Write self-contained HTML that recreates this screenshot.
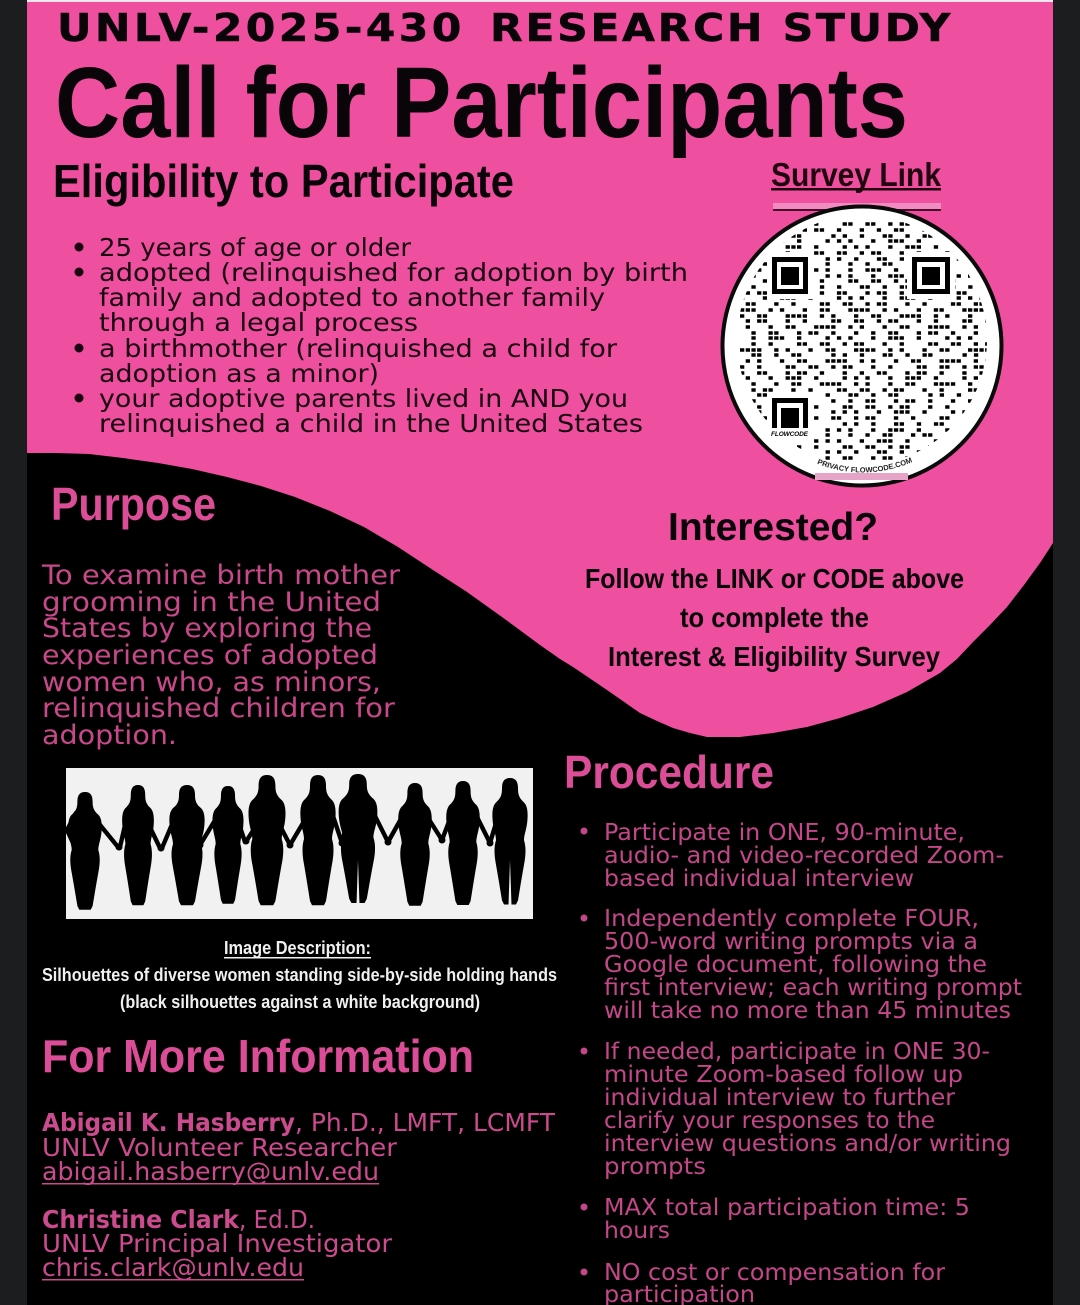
<!DOCTYPE html>
<html><head><meta charset="utf-8"><style>
html,body{margin:0;padding:0;background:#000}
svg{display:block}
text{font-family:"Liberation Sans",sans-serif}
.h{font-weight:700;fill:#0a0508}
.t{font-family:"DejaVu Sans",sans-serif;font-weight:700;font-size:38px;fill:#0a0508;stroke:#0a0508;stroke-width:.5}
.m{font-family:"DejaVu Sans",sans-serif;font-size:25px;fill:#1a0510}
.p{font-family:"DejaVu Sans",sans-serif;font-size:27px;fill:#c8488a}
.r{font-family:"DejaVu Sans",sans-serif;font-size:23px;fill:#c4478a}
.c{font-family:"DejaVu Sans",sans-serif;font-size:25px;fill:#cc4a8e}
.k{font-weight:700;fill:#dc4d97}
.w{font-weight:700;fill:#f0f0f0;font-size:18px}
.q path{stroke:#000;stroke-width:3.4;fill:none}
.a{stroke-dasharray:4.3 1.4 4.3 12.8 4.3 7.1 4.3 1.4 4.3 18.5 4.3 12.8 4.3 24.2 4.3 1.4 4.3 12.8}
.b{stroke-dasharray:4.3 12.8 4.3 12.8 4.3 1.4 4.3 18.5 4.3 7.1 4.3 1.4 4.3 12.8 4.3 18.5}
.d{stroke-dasharray:4.3 18.5 4.3 1.4 4.3 12.8 4.3 12.8 4.3 1.4 4.3 30 4.3 7.1 4.3 12.8}
.e{stroke-dasharray:4.3 1.4 4.3 1.4 4.3 1.4 4.3 12.8 4.3 7.1 4.3 18.5 4.3 12.8 4.3 1.4 4.3 18.5}
.f{stroke-dasharray:4.3 7.1 4.3 18.5 4.3 12.8 4.3 1.4 4.3 1.4 4.3 12.8 4.3 24.2 4.3 7.1}
.s path{fill:#000}.s polyline{fill:none;stroke:#000;stroke-width:4.4;stroke-linecap:round;stroke-linejoin:round}
</style></head><body>
<svg xmlns="http://www.w3.org/2000/svg" width="1080" height="1305" viewBox="0 0 1080 1305">
<defs>
<clipPath id="qc"><circle cx="862" cy="340" r="125"/></clipPath>
<path id="fig" d="M0 0C-6 0-8 4-8 10C-8 16-9 19-13 23C-17 26-18 32-17.5 40C-17 50-14 55-14 61C-16 67-16 75-14 85C-12 96-10 108-8 120L-6 124L6 124L8 120C10 108 12 96 14 85C16 75 16 67 14 61C14 55 17 50 17.5 40C18 32 17 26 13 23C9 19 8 16 8 10C8 4 6 0 0 0Z"/>
<path id="arc" d="M815 463 Q862 482 910 463"/>
</defs>
<rect width="1080" height="1305" fill="#000"/>
<rect x="0" y="0" width="27" height="1305" fill="#1c1d1f"/>
<rect x="1053" y="0" width="27" height="1305" fill="#1c1d1f"/>
<rect x="27" y="0" width="1026" height="2" fill="#f6e6ee"/>
<path d="M27 2H1053V543L1040 563L1024 585L1007 607L990 625L973 642L957 659L940 673L907 692L873 707L840 718L807 727L773 733L740 737L707 737L690 733L673 728L657 721L640 713L607 690L573 667L560 659L540 645L502 617L467 592L433 570L398 547L364 527L330 511L295 497L261 486L227 477L192 469L158 463L123 458L89 454L55 453L27 453Z" fill="#ee4f9f"/>

<g transform="scale(1.12,1)">
<text class="t" x="50.9" y="41" textLength="361" lengthAdjust="spacing">UNLV-2025-430</text>
<text class="t" x="437.5" y="41" textLength="411" lengthAdjust="spacing">RESEARCH STUDY</text>
</g>
<text class="h" x="55" y="137" font-size="100" textLength="853" lengthAdjust="spacingAndGlyphs">Call for Participants</text>
<text class="h" x="53" y="197" font-size="46" textLength="461" lengthAdjust="spacingAndGlyphs">Eligibility to Participate</text>
<text class="h" x="771" y="186" font-size="33" textLength="170" lengthAdjust="spacingAndGlyphs" style="fill:#22060f">Survey Link</text>
<rect x="771" y="188" width="170" height="2.5" fill="#22060f"/>
<rect x="773" y="203" width="168" height="6" fill="#f08cc0"/>
<rect x="773" y="209" width="168" height="2" fill="#4a0a2a"/>

<g fill="#1a0510"><circle cx="79" cy="247" r="4.5"/><circle cx="79" cy="272" r="4.5"/><circle cx="79" cy="348" r="4.5"/><circle cx="79" cy="398" r="4.5"/></g>
<text class="m" x="99" y="256" textLength="312" lengthAdjust="spacingAndGlyphs">25 years of age or older</text>
<text class="m" x="99" y="281" textLength="589" lengthAdjust="spacingAndGlyphs">adopted (relinquished for adoption by birth</text>
<text class="m" x="99" y="306" textLength="506" lengthAdjust="spacingAndGlyphs">family and adopted to another family</text>
<text class="m" x="99" y="331" textLength="319" lengthAdjust="spacingAndGlyphs">through a legal process</text>
<text class="m" x="99" y="357" textLength="518" lengthAdjust="spacingAndGlyphs">a birthmother (relinquished a child for</text>
<text class="m" x="99" y="382" textLength="280" lengthAdjust="spacingAndGlyphs">adoption as a minor)</text>
<text class="m" x="99" y="407" textLength="529" lengthAdjust="spacingAndGlyphs">your adoptive parents lived in AND you</text>
<text class="m" x="99" y="432" textLength="544" lengthAdjust="spacingAndGlyphs">relinquished a child in the United States</text>

<circle cx="862" cy="346" r="139.5" fill="#fff" stroke="#0a0a0a" stroke-width="4"/>
<g class="q" clip-path="url(#qc)">
<path class="a" d="M740 224H990" stroke-dashoffset="5.7"/>
<path class="b" d="M740 230H990" stroke-dashoffset="0"/>
<path class="d" d="M740 236H990" stroke-dashoffset="11.4"/>
<path class="f" d="M740 241H990" stroke-dashoffset="22.8"/>
<path class="f" d="M740 247H990" stroke-dashoffset="5.7"/>
<path class="a" d="M740 253H990" stroke-dashoffset="34.2"/>
<path class="d" d="M740 259H990" stroke-dashoffset="17.1"/>
<path class="b" d="M740 264H990" stroke-dashoffset="11.4"/>
<path class="f" d="M740 270H990" stroke-dashoffset="45.6"/>
<path class="f" d="M740 276H990" stroke-dashoffset="22.8"/>
<path class="a" d="M740 281H990" stroke-dashoffset="0"/>
<path class="d" d="M740 287H990" stroke-dashoffset="34.2"/>
<path class="b" d="M740 293H990" stroke-dashoffset="57"/>
<path class="f" d="M740 298H990" stroke-dashoffset="11.4"/>
<path class="a" d="M740 304H990" stroke-dashoffset="28.5"/>
<path class="e" d="M740 310H990" stroke-dashoffset="5.7"/>
<path class="e" d="M740 316H990" stroke-dashoffset="68.4"/>
<path class="a" d="M740 321H990" stroke-dashoffset="17.1"/>
<path class="e" d="M740 327H990" stroke-dashoffset="39.9"/>
<path class="b" d="M740 333H990" stroke-dashoffset="5.7"/>
<path class="f" d="M740 338H990" stroke-dashoffset="22.8"/>
<path class="a" d="M740 344H990" stroke-dashoffset="51.3"/>
<path class="e" d="M740 350H990" stroke-dashoffset="0"/>
<path class="d" d="M740 355H990" stroke-dashoffset="11.4"/>
<path class="e" d="M740 361H990" stroke-dashoffset="28.5"/>
<path class="a" d="M740 367H990" stroke-dashoffset="62.7"/>
<path class="b" d="M740 373H990" stroke-dashoffset="17.1"/>
<path class="f" d="M740 378H990" stroke-dashoffset="5.7"/>
<path class="e" d="M740 384H990" stroke-dashoffset="34.2"/>
<path class="a" d="M740 390H990" stroke-dashoffset="11.4"/>
<path class="d" d="M740 395H990" stroke-dashoffset="45.6"/>
<path class="b" d="M740 401H990" stroke-dashoffset="28.5"/>
<path class="a" d="M740 407H990" stroke-dashoffset="5.7"/>
<path class="f" d="M740 412H990" stroke-dashoffset="17.1"/>
<path class="a" d="M740 418H990" stroke-dashoffset="39.9"/>
<path class="d" d="M740 424H990" stroke-dashoffset="0"/>
<path class="f" d="M740 430H990" stroke-dashoffset="22.8"/>
<path class="b" d="M740 435H990" stroke-dashoffset="11.4"/>
<path class="f" d="M740 441H990" stroke-dashoffset="34.2"/>
<path class="a" d="M740 447H990" stroke-dashoffset="5.7"/>
<path class="d" d="M740 452H990" stroke-dashoffset="17.1"/>
<path class="b" d="M740 458H990" stroke-dashoffset="51.3"/>
</g>
<g>
<rect x="767" y="252" width="46" height="47" fill="#fff"/><rect x="907" y="252" width="48" height="47" fill="#fff"/><rect x="767" y="393" width="46" height="49" fill="#fff"/>
<rect x="772" y="257" width="36" height="37" fill="#000"/><rect x="777" y="262" width="26" height="27" fill="#fff"/><rect x="781" y="267" width="18" height="18" fill="#000"/>
<rect x="912" y="257" width="38" height="37" fill="#000"/><rect x="917" y="262" width="28" height="27" fill="#fff"/><rect x="922" y="267" width="18" height="18" fill="#000"/>
<rect x="772" y="398" width="36" height="30" fill="#000"/><rect x="777" y="403" width="26" height="25" fill="#fff"/><rect x="781" y="408" width="18" height="20" fill="#000"/>
</g>
<text x="771" y="436" font-size="6.5" font-weight="700" font-style="italic" fill="#000" textLength="37" lengthAdjust="spacing">FLOWCODE</text>
<text font-size="7.5" font-weight="700" fill="#222"><textPath href="#arc" startOffset="2">PRIVACY FLOWCODE.COM</textPath></text>
<rect x="815" y="473" width="93" height="7" fill="#e6a4c6"/>

<text class="k" x="51" y="520" font-size="46" textLength="165" lengthAdjust="spacingAndGlyphs">Purpose</text>
<text class="p" x="42" y="584" textLength="358" lengthAdjust="spacingAndGlyphs">To examine birth mother</text>
<text class="p" x="42" y="611" textLength="339" lengthAdjust="spacingAndGlyphs">grooming in the United</text>
<text class="p" x="42" y="637" textLength="330" lengthAdjust="spacingAndGlyphs">States by exploring the</text>
<text class="p" x="42" y="664" textLength="336" lengthAdjust="spacingAndGlyphs">experiences of adopted</text>
<text class="p" x="42" y="691" textLength="339" lengthAdjust="spacingAndGlyphs">women who, as minors,</text>
<text class="p" x="42" y="717" textLength="353" lengthAdjust="spacingAndGlyphs">relinquished children for</text>
<text class="p" x="42" y="744" textLength="135" lengthAdjust="spacingAndGlyphs">adoption.</text>

<text class="h" x="668" y="540" font-size="39" textLength="210" lengthAdjust="spacingAndGlyphs">Interested?</text>
<text class="h" x="585" y="588" font-size="28" textLength="379" lengthAdjust="spacingAndGlyphs">Follow the LINK or CODE above</text>
<text class="h" x="680" y="627" font-size="28" textLength="189" lengthAdjust="spacingAndGlyphs">to complete the</text>
<text class="h" x="608" y="666" font-size="28" textLength="332" lengthAdjust="spacingAndGlyphs">Interest &amp; Eligibility Survey</text>

<rect x="66" y="768" width="467" height="151" fill="#f1f1f1"/>
<g class="s">
<polyline points="76,813 67,830 73,843"/>
<polyline points="96,820 118,847"/>
<polyline points="128,812 120,847"/>
<polyline points="144,815 160,848"/>
<polyline points="176,815 162,848"/>
<polyline points="220,812 200,845"/>
<polyline points="236,815 245,842"/>
<polyline points="260,820 247,840"/>
<polyline points="276,818 290,845"/>
<polyline points="306,818 290,845"/>
<polyline points="330,807 342,843"/>
<polyline points="350,810 342,843"/>
<polyline points="372,810 388,842"/>
<polyline points="406,810 388,842"/>
<polyline points="423,810 442,840"/>
<polyline points="456,803 442,840"/>
<polyline points="472,807 490,843"/>
<polyline points="502,803 490,843"/>
<g fill="#000"><circle cx="119" cy="847" r="3.5"/><circle cx="161" cy="848" r="3.5"/><circle cx="200" cy="845" r="3.5"/><circle cx="246" cy="841" r="3.5"/><circle cx="290" cy="845" r="3.5"/><circle cx="342" cy="843" r="3.5"/><circle cx="388" cy="842" r="3.5"/><circle cx="442" cy="840" r="3.5"/><circle cx="490" cy="843" r="3.5"/></g>
<use href="#fig" transform="translate(85,792) scale(.95,.95)"/>
<use href="#fig" transform="translate(138,785) scale(.9,.97)"/>
<use href="#fig" transform="translate(187,785) scale(1,.97)"/>
<use href="#fig" transform="translate(228,786) scale(.88,.95)"/>
<use href="#fig" transform="translate(267,775) scale(1.05,1.05)"/>
<use href="#fig" transform="translate(318,775) scale(1,1.05)"/>
<use href="#fig" transform="translate(358,774) scale(1.1,1.04)"/>
<use href="#fig" transform="translate(415,783) scale(.95,.99)"/>
<use href="#fig" transform="translate(463,781) scale(.95,1)"/>
<use href="#fig" transform="translate(510,778) scale(1,1.02)"/>
<polygon points="358,860 356.5,904 359.5,904" fill="#f1f1f1"/>
<polygon points="510,860 508.5,905 511.5,905" fill="#f1f1f1"/>
</g>

<text class="w" x="224" y="954" textLength="147" lengthAdjust="spacingAndGlyphs">Image Description:</text>
<rect x="224" y="957" width="147" height="1.5" fill="#f0f0f0"/>
<text class="w" x="42" y="981" textLength="515" lengthAdjust="spacingAndGlyphs">Silhouettes of diverse women standing side-by-side holding hands</text>
<text class="w" x="120" y="1008" textLength="360" lengthAdjust="spacingAndGlyphs">(black silhouettes against a white background)</text>

<text class="k" x="42" y="1072" font-size="46" textLength="432" lengthAdjust="spacingAndGlyphs">For More Information</text>
<text class="c" x="42" y="1131" font-weight="700" textLength="253" lengthAdjust="spacingAndGlyphs">Abigail K. Hasberry</text>
<text class="c" x="295" y="1131" textLength="260" lengthAdjust="spacingAndGlyphs">, Ph.D., LMFT, LCMFT</text>
<text class="c" x="42" y="1156" textLength="355" lengthAdjust="spacingAndGlyphs">UNLV Volunteer Researcher</text>
<text class="c" x="42" y="1180" textLength="337" lengthAdjust="spacingAndGlyphs">abigail.hasberry@unlv.edu</text>
<rect x="42" y="1183" width="337" height="1.5" fill="#cc4a8e"/>
<text class="c" x="42" y="1228" font-weight="700" textLength="197" lengthAdjust="spacingAndGlyphs">Christine Clark</text>
<text class="c" x="239" y="1228" textLength="76" lengthAdjust="spacingAndGlyphs">, Ed.D.</text>
<text class="c" x="42" y="1252" textLength="350" lengthAdjust="spacingAndGlyphs">UNLV Principal Investigator</text>
<text class="c" x="42" y="1276" textLength="262" lengthAdjust="spacingAndGlyphs">chris.clark@unlv.edu</text>
<rect x="42" y="1279" width="262" height="1.5" fill="#cc4a8e"/>

<text class="k" x="564" y="788" font-size="46" textLength="210" lengthAdjust="spacingAndGlyphs">Procedure</text>
<g fill="#c4478a"><circle cx="584" cy="831" r="3.5"/><circle cx="584" cy="918" r="3.5"/><circle cx="584" cy="1051" r="3.5"/><circle cx="584" cy="1207" r="3.5"/><circle cx="584" cy="1272" r="3.5"/></g>
<text class="r" x="604" y="840" textLength="361" lengthAdjust="spacingAndGlyphs">Participate in ONE, 90-minute,</text>
<text class="r" x="604" y="863" textLength="400" lengthAdjust="spacingAndGlyphs">audio- and video-recorded Zoom-</text>
<text class="r" x="604" y="886" textLength="310" lengthAdjust="spacingAndGlyphs">based individual interview</text>
<text class="r" x="604" y="926" textLength="375" lengthAdjust="spacingAndGlyphs">Independently complete FOUR,</text>
<text class="r" x="604" y="949" textLength="374" lengthAdjust="spacingAndGlyphs">500-word writing prompts via a</text>
<text class="r" x="604" y="972" textLength="383" lengthAdjust="spacingAndGlyphs">Google document, following the</text>
<text class="r" x="604" y="995" textLength="418" lengthAdjust="spacingAndGlyphs">first interview; each writing prompt</text>
<text class="r" x="604" y="1018" textLength="407" lengthAdjust="spacingAndGlyphs">will take no more than 45 minutes</text>
<text class="r" x="604" y="1059" textLength="386" lengthAdjust="spacingAndGlyphs">If needed, participate in ONE 30-</text>
<text class="r" x="604" y="1082" textLength="359" lengthAdjust="spacingAndGlyphs">minute Zoom-based follow up</text>
<text class="r" x="604" y="1105" textLength="351" lengthAdjust="spacingAndGlyphs">individual interview to further</text>
<text class="r" x="604" y="1128" textLength="331" lengthAdjust="spacingAndGlyphs">clarify your responses to the</text>
<text class="r" x="604" y="1151" textLength="407" lengthAdjust="spacingAndGlyphs">interview questions and/or writing</text>
<text class="r" x="604" y="1174" textLength="102" lengthAdjust="spacingAndGlyphs">prompts</text>
<text class="r" x="604" y="1215" textLength="366" lengthAdjust="spacingAndGlyphs">MAX total participation time:  5</text>
<text class="r" x="604" y="1238" textLength="66" lengthAdjust="spacingAndGlyphs">hours</text>
<text class="r" x="604" y="1280" textLength="341" lengthAdjust="spacingAndGlyphs">NO cost or compensation for</text>
<text class="r" x="604" y="1302" textLength="151" lengthAdjust="spacingAndGlyphs">participation</text>
</svg>
</body></html>
